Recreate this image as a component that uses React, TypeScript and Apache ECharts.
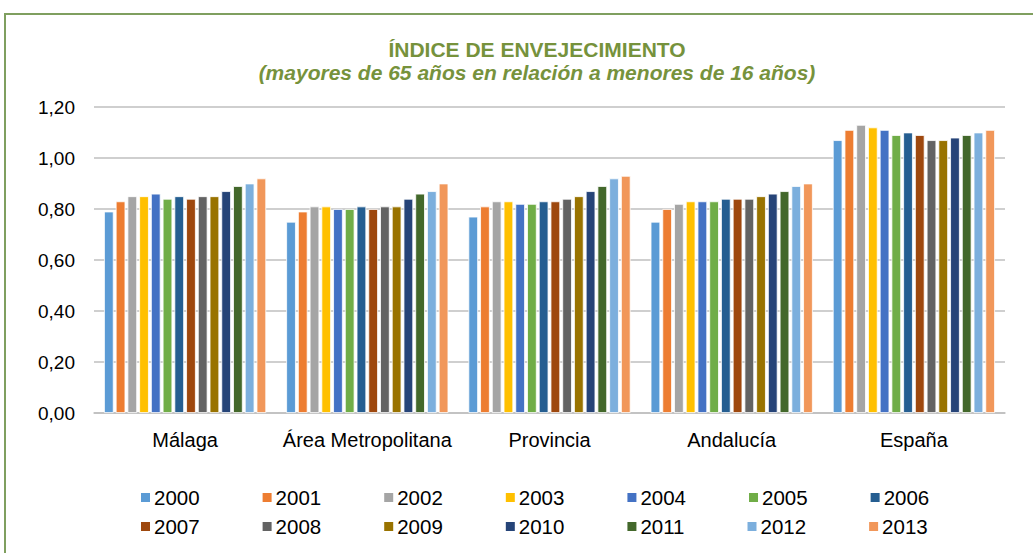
import React, { useEffect, useRef } from "react";
import * as echarts from "echarts";

const categories = ["Málaga", "Área Metropolitana", "Provincia", "Andalucía", "España"];
const years = ["2000", "2001", "2002", "2003", "2004", "2005", "2006", "2007", "2008", "2009", "2010", "2011", "2012", "2013"];
const colors = ["#5B9BD5", "#ED7D31", "#A5A5A5", "#FFC000", "#4472C4", "#70AD47", "#255E91", "#9E480E", "#636363", "#997300", "#264478", "#43682B", "#7CAFDD", "#F1975A"];

// values per region, one entry per year 2000..2013
const malaga = [0.79, 0.83, 0.85, 0.85, 0.86, 0.84, 0.85, 0.84, 0.85, 0.85, 0.87, 0.89, 0.90, 0.92];
const areaMetropolitana = [0.75, 0.79, 0.81, 0.81, 0.80, 0.80, 0.81, 0.80, 0.81, 0.81, 0.84, 0.86, 0.87, 0.90];
const provincia = [0.77, 0.81, 0.83, 0.83, 0.82, 0.82, 0.83, 0.83, 0.84, 0.85, 0.87, 0.89, 0.92, 0.93];
const andalucia = [0.75, 0.80, 0.82, 0.83, 0.83, 0.83, 0.84, 0.84, 0.84, 0.85, 0.86, 0.87, 0.89, 0.90];
const espana = [1.07, 1.11, 1.13, 1.12, 1.11, 1.09, 1.10, 1.09, 1.07, 1.07, 1.08, 1.09, 1.10, 1.11];

const regions = [malaga, areaMetropolitana, provincia, andalucia, espana];

const yTicks = { min: 0, max: 1.2, interval: 0.2 };

export default function App() {
  const ref = useRef<HTMLDivElement>(null);
  useEffect(() => {
    if (!ref.current) return;
    const chart = echarts.init(ref.current, null, { renderer: "svg" });
    const series = years.map((y, i) => ({
      name: y,
      type: "bar",
      data: regions.map((r) => r[i]),
      itemStyle: { color: colors[i], borderColor: "#ffffff", borderWidth: 0.8 },
      barGap: "22%",
      barCategoryGap: "11%",
    }));
    const legendCommon = {
      icon: "rect",
      itemWidth: 11,
      itemHeight: 11,
      itemGap: 61,
      textStyle: { fontSize: 20.5, color: "#000", fontFamily: "Liberation Sans, Arial", padding: [0, 0, 0, -2] },
      left: 134,
    };
    chart.setOption({
      animation: false,
      title: {
        text: "ÍNDICE DE ENVEJECIMIENTO",
        subtext: "(mayores de 65 años en relación a menores de 16 años)",
        left: 532,
        textAlign: "center",
        top: 34,
        itemGap: 2,
        textStyle: { fontSize: 21, fontWeight: "bold", color: "#76923C", fontFamily: "Liberation Sans, Arial" },
        subtextStyle: { fontSize: 21, fontWeight: "bold", fontStyle: "italic", color: "#76923C", fontFamily: "Liberation Sans, Arial" },
      },
      graphic: [
        {
          type: "rect",
          shape: { x: 5, y: 14, width: 1100, height: 700 },
          style: { fill: "none", stroke: "#7F9F5F", lineWidth: 2 },
          silent: true,
        },
      ],
      legend: [
        { ...legendCommon, top: 482, data: years.slice(0, 7) },
        { ...legendCommon, top: 511, data: years.slice(7) },
      ],
      grid: { left: 94, right: 28, top: 107, bottom: 140 },
      xAxis: {
        type: "category",
        data: categories,
        axisTick: { show: false },
        axisLine: { lineStyle: { color: "#BFBFBF", width: 1.5 } },
        axisLabel: { interval: 0, fontSize: 20, color: "#000", margin: 17, fontFamily: "Liberation Sans, Arial" },
      },
      yAxis: {
        type: "value",
        min: yTicks.min,
        max: yTicks.max,
        interval: yTicks.interval,
        axisLabel: {
          fontSize: 19,
          color: "#000",
          margin: 19,
          fontFamily: "Liberation Sans, Arial",
          formatter: (v: number) => v.toFixed(2).replace(".", ","),
        },
        splitLine: { lineStyle: { color: "#BFBFBF", width: 1.5 } },
        axisLine: { show: false },
        axisTick: { show: false },
      },
      series,
    });
    return () => chart.dispose();
  }, []);
  return (
    <div
      ref={ref}
      style={{ position: "fixed", left: 0, top: 0, width: 1033, height: 553, background: "#fff" }}
    />
  );
}
